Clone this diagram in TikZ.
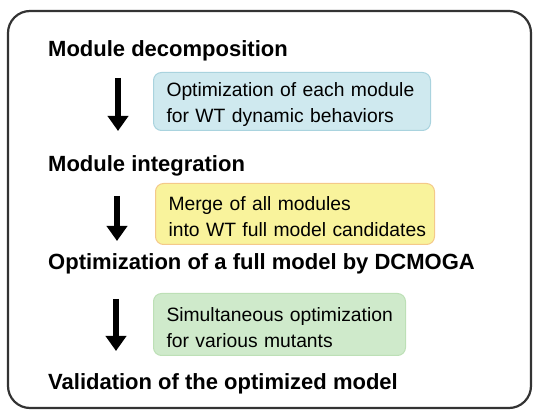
\documentclass[tikz,border=0pt]{standalone}
\usepackage{fontspec}
\setmainfont{Liberation Sans}
\usetikzlibrary{arrows.meta}

\definecolor{stepblue}{HTML}{CFE9EF}
\definecolor{stepblueline}{HTML}{A9D3DE}
\definecolor{stepyellow}{HTML}{F9F39C}
\definecolor{stepyellowline}{HTML}{F4C98A}
\definecolor{stepgreen}{HTML}{CFEACB}
\definecolor{stepgreenline}{HTML}{BDE0B6}

\begin{document}
\begin{tikzpicture}[x=1pt, y=-1pt,
    stage/.style={anchor=base west, inner sep=0pt, font=\fontsize{22}{24}\selectfont\bfseries},
    note/.style={anchor=north west, rounded corners=8pt, line width=1pt, align=left,
                 inner xsep=13pt, inner ysep=0pt, text height=20pt, font=\fontsize{19.3}{26}\selectfont},
    flow/.style={line width=6pt, -{Triangle[width=20pt,length=15pt]}}]
\useasboundingbox (0,0) rectangle (533,411);

	\draw [line width=2.2pt, draw=black!80, rounded corners=22pt] (8,11) rectangle (531,408);

\node[stage] (decomp) at (48, 57) {Module decomposition};
\node[stage] (integr) at (48, 172) {Module integration};
\node[stage] (fullopt) at (48, 270) {Optimization of a full model by DCMOGA};
\node[stage] (valid) at (48, 390) {Validation of the optimized model};

\node[note, fill=stepblue, draw=stepblueline, minimum height=58pt, text width=251pt]
    (modopt) at (153, 72) {\mbox{Optimization of each module}\\\mbox{for WT dynamic behaviors}};
\node[note, fill=stepyellow, draw=stepyellowline, minimum height=61pt, text width=253pt]
    (merge) at (155, 183) {\mbox{Merge of all modules}\\\mbox{into WT full model candidates}};
\node[note, fill=stepgreen, draw=stepgreenline, minimum height=62pt, text width=226pt]
    (simopt) at (153, 293) {\mbox{Simultaneous optimization}\\\mbox{for various mutants}};

\coordinate (a1) at (118, 78);  \coordinate (b1) at (118, 131);
\coordinate (a2) at (117, 196); \coordinate (b2) at (117, 241);
\coordinate (a3) at (116, 299); \coordinate (b3) at (116, 351);

\foreach \i in {1,2,3}
    \draw [flow] (a\i) -- (b\i);

\end{tikzpicture}
\end{document}
